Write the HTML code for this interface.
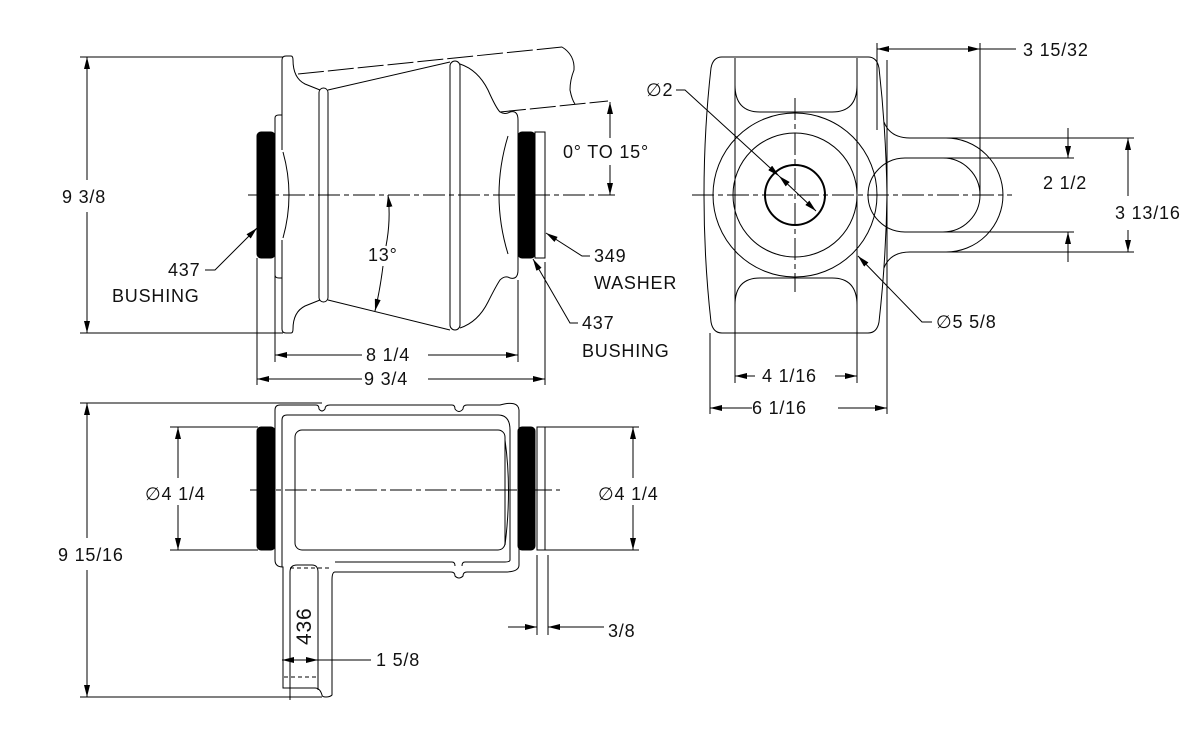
<!DOCTYPE html>
<html><head><meta charset="utf-8"><style>
html,body{margin:0;padding:0;background:#fff;}
svg{display:block;}
text{font-family:"Liberation Sans",sans-serif;font-size:18px;fill:#111;letter-spacing:0.8px;}
</style></head><body>
<svg width="1200" height="745" viewBox="0 0 1200 745" xmlns="http://www.w3.org/2000/svg">
<defs>
<marker id="a" viewBox="0 0 12 6" refX="12" refY="3" markerWidth="12" markerHeight="6" markerUnits="userSpaceOnUse" orient="auto-start-reverse"><path d="M0,0L12,3L0,6z" fill="#000"/></marker>
</defs>
<g fill="none" stroke="#000" stroke-width="1">
<line x1="80" y1="57" x2="283" y2="57"/><line x1="80" y1="333" x2="283" y2="333"/>
<line x1="87" y1="57" x2="87" y2="180" marker-start="url(#a)"/><line x1="87" y1="212" x2="87" y2="333" marker-end="url(#a)"/>
<line x1="248" y1="195" x2="615" y2="195" stroke-dasharray="22,4,5,4"/>
<rect x="257" y="132" width="18" height="126" rx="4" fill="#000"/>
<rect x="518" y="132" width="17" height="126" rx="4" fill="#000"/>
<rect x="535" y="132" width="10" height="126"/>
<path d="M275,118 Q275,115 279,115 L282,115 L282,60 Q282,56 286,56 L291,56 Q293,56 293,60 Q293,78 305,84 Q315,88 320,90"/>
<path d="M275,118 L275,275 Q275,278 279,278 L282,278 L282,329 Q282,333 286,333 L291,333 Q293,333 293,329 Q293,312 305,306 Q315,302 320,300"/>
<path d="M282,115 L282,150 M282,240 L282,278"/>
<path d="M283,152 Q295,195 283,238"/>
<rect x="319" y="88" width="9" height="214" rx="4.5"/>
<line x1="328" y1="90" x2="450" y2="62"/><line x1="328" y1="300" x2="450" y2="330"/>
<rect x="450" y="61" width="10" height="269" rx="5"/>
<path d="M460,64 Q478,70 488,90 Q496,108 500,112 Q505,115 510,112 Q518,110 518,120 L518,270 Q518,280 510,278 Q505,275 500,280 Q496,286 488,302 Q478,322 460,328"/>
<path d="M508,136 Q490,195 508,254"/>
<path d="M298,74 L562,47" stroke-dasharray="26,4"/>
<path d="M562,47 Q575,55 574,70 Q570,80 570,90 Q572,100 575,104"/>
<path d="M500,112 L608,101" stroke-dasharray="26,4"/>
<line x1="610" y1="102" x2="610" y2="138" marker-start="url(#a)"/><line x1="610" y1="165" x2="610" y2="195" marker-end="url(#a)"/>
<path d="M386,246 Q391,220 388,195" marker-end="url(#a)"/>
<path d="M383,266 Q380,290 375,311" marker-end="url(#a)"/>
<path d="M205,270 L215,270 L257,228" marker-end="url(#a)"/>
<path d="M590,256 L582,256 L546,233" marker-end="url(#a)"/>
<path d="M578,323 L570,323 L533,259" marker-end="url(#a)"/>
<line x1="275" y1="258" x2="275" y2="362"/><line x1="518" y1="280" x2="518" y2="362"/>
<line x1="257" y1="258" x2="257" y2="385"/><line x1="545" y1="262" x2="545" y2="385"/>
<line x1="275" y1="355" x2="362" y2="355" marker-start="url(#a)"/><line x1="428" y1="355" x2="518" y2="355" marker-end="url(#a)"/>
<line x1="257" y1="379" x2="362" y2="379" marker-start="url(#a)"/><line x1="428" y1="379" x2="545" y2="379" marker-end="url(#a)"/>

<!-- RIGHT VIEW -->
<path d="M722,57 L868,57 Q877,57 879,68 Q886,130 887,195 Q886,260 879,322 Q877,333 868,333 L722,333 Q713,333 711,322 Q704,260 704,195 Q704,130 711,68 Q713,57 722,57"/>
<line x1="735" y1="60" x2="735" y2="330"/><line x1="857" y1="60" x2="857" y2="330"/>
<path d="M735,58 L735,85 Q735,112 760,112 L832,112 Q857,112 857,85 L857,58"/>
<path d="M735,332 L735,305 Q735,278 760,278 L832,278 Q857,278 857,305 L857,332"/>
<circle cx="795" cy="195" r="82"/><circle cx="795" cy="195" r="62"/>
<circle cx="795" cy="195" r="30" stroke-width="2"/>
<line x1="887" y1="60" x2="887" y2="333"/>
<path d="M884,122 Q890,138 910,138 L946,138 A57,57 0 0 1 946,252 L910,252 Q890,252 884,268"/>
<path d="M905,158 L943,158 A37,37 0 0 1 943,232 L905,232 A37,37 0 0 1 905,158"/>
<line x1="692" y1="195" x2="1012" y2="195" stroke-dasharray="22,4,5,4"/>
<line x1="795" y1="98" x2="795" y2="292" stroke-dasharray="22,4,5,4"/>
<line x1="877" y1="43" x2="877" y2="130"/><line x1="980" y1="43" x2="980" y2="195"/>
<line x1="877" y1="49" x2="980" y2="49" marker-start="url(#a)" marker-end="url(#a)"/>
<line x1="980" y1="49" x2="1016" y2="49"/>
<line x1="943" y1="158" x2="1074" y2="158"/><line x1="943" y1="232" x2="1074" y2="232"/>
<line x1="1068" y1="128" x2="1068" y2="158" marker-end="url(#a)"/><line x1="1068" y1="262" x2="1068" y2="232" marker-end="url(#a)"/>
<line x1="946" y1="138" x2="1134" y2="138"/><line x1="946" y1="252" x2="1134" y2="252"/>
<line x1="1128" y1="138" x2="1128" y2="196" marker-start="url(#a)"/><line x1="1128" y1="230" x2="1128" y2="252" marker-end="url(#a)"/>
<path d="M676,90 L685,90 L779,176" marker-end="url(#a)"/>
<line x1="779" y1="176" x2="816" y2="211" marker-start="url(#a)" marker-end="url(#a)"/>
<path d="M932,322 L922,322 L858,256" marker-end="url(#a)"/>
<line x1="735" y1="330" x2="735" y2="383"/><line x1="857" y1="330" x2="857" y2="383"/>
<line x1="710" y1="333" x2="710" y2="414"/><line x1="887" y1="333" x2="887" y2="414"/>
<line x1="735" y1="376" x2="755" y2="376" marker-start="url(#a)"/><line x1="835" y1="376" x2="857" y2="376" marker-end="url(#a)"/>
<line x1="710" y1="408" x2="752" y2="408" marker-start="url(#a)"/><line x1="838" y1="408" x2="887" y2="408" marker-end="url(#a)"/>

<!-- BOTTOM VIEW -->
<line x1="80" y1="403" x2="322" y2="403"/><line x1="80" y1="697" x2="322" y2="697"/>
<line x1="87" y1="403" x2="87" y2="538" marker-start="url(#a)"/><line x1="87" y1="570" x2="87" y2="697" marker-end="url(#a)"/>
<line x1="250" y1="490" x2="560" y2="490" stroke-dasharray="22,4,5,4"/>
<rect x="257" y="427" width="18" height="123" rx="4" fill="#000"/>
<rect x="518" y="427" width="17" height="123" rx="4" fill="#000"/>
<rect x="537" y="427" width="8" height="123"/>
<path d="M280,405 L316,405 Q319,405 319,409 Q322,413 325,409 Q325,405 330,405 L452,405 Q455,405 455,409 Q459,414 463,409 Q463,405 467,405 L500,405 Q518,400 519,410 L519,565 Q519,572 505,572 L467,572 Q463,572 463,576 Q459,580 455,576 Q455,572 451,572 L335,572 Q332,572 332,580 L332,695 Q330,697 326,697 Q322,697 322,695 Q320,688 315,688 L283,688 L283,567 Q275,567 275,560 L275,410 Q275,405 280,405"/>
<path d="M282,567 L282,420 Q282,415 287,415 L498,415 Q510,415 510,430 L510,560 Q510,562 505,562 L465,562 Q462,562 462,566 M455,566 Q455,562 452,562 L335,562"/>
<rect x="295" y="430" width="210" height="120" rx="7"/>
<path d="M505,440 Q512,490 505,545"/>
<path d="M290,700 L290,572 Q290,565 297,565 L312,565 Q318,565 318,572 L318,690"/>
<line x1="290" y1="568" x2="330" y2="568" stroke-dasharray="4,3"/>
<line x1="284" y1="677" x2="318" y2="677" stroke-dasharray="4,3"/>
<line x1="282" y1="660" x2="318" y2="660" marker-start="url(#a)" marker-end="url(#a)"/>
<line x1="318" y1="660" x2="371" y2="660"/>
<line x1="170" y1="427" x2="258" y2="427"/><line x1="170" y1="550" x2="258" y2="550"/>
<line x1="178" y1="427" x2="178" y2="478" marker-start="url(#a)"/><line x1="178" y1="505" x2="178" y2="550" marker-end="url(#a)"/>
<line x1="545" y1="427" x2="639" y2="427"/><line x1="545" y1="550" x2="639" y2="550"/>
<line x1="633" y1="427" x2="633" y2="478" marker-start="url(#a)"/><line x1="633" y1="505" x2="633" y2="550" marker-end="url(#a)"/>
<line x1="537" y1="555" x2="537" y2="635"/><line x1="548" y1="555" x2="548" y2="635"/>
<line x1="508" y1="627" x2="537" y2="627" marker-end="url(#a)"/><line x1="604" y1="627" x2="548" y2="627" marker-end="url(#a)"/>
</g>
<text x="62" y="203">9 3/8</text>
<text x="168" y="276">437</text>
<text x="112" y="302">BUSHING</text>
<text x="368" y="261">13°</text>
<text x="563" y="158">0° TO 15°</text>
<text x="594" y="262">349</text>
<text x="594" y="289">WASHER</text>
<text x="582" y="329">437</text>
<text x="582" y="357">BUSHING</text>
<text x="366" y="361">8 1/4</text>
<text x="364" y="385">9 3/4</text>
<text x="646" y="96">∅2</text>
<text x="1023" y="56">3 15/32</text>
<text x="1043" y="189">2 1/2</text>
<text x="1115" y="219">3 13/16</text>
<text x="936" y="328">∅5 5/8</text>
<text x="762" y="382">4 1/16</text>
<text x="752" y="414">6 1/16</text>
<text x="58" y="561">9 15/16</text>
<text x="145" y="500">∅4 1/4</text>
<text x="598" y="500">∅4 1/4</text>
<text x="608" y="637">3/8</text>
<text x="376" y="666">1 5/8</text>
<text x="0" y="0" transform="translate(311,645) rotate(-90)" style="font-size:21px">436</text>
</svg>
</body></html>
